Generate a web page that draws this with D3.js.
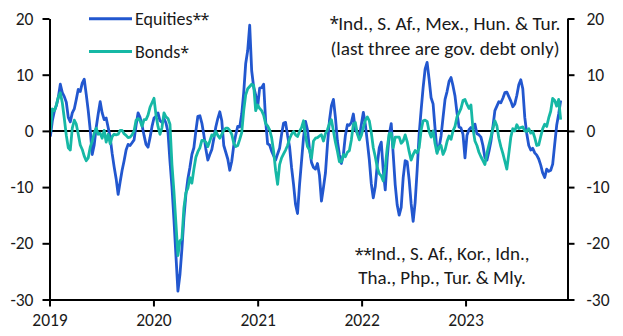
<!DOCTYPE html>
<html>
<head>
<meta charset="utf-8">
<script src="https://cdn.jsdelivr.net/npm/d3@7"></script>
<style>
  html, body { margin: 0; padding: 0; background: #fff; }
  svg { display: block; }
  text { font-family: Carlito, Lato, "Noto Sans", sans-serif; fill: #1a1a1a; }
  tspan.ast { font-family: "Noto Sans", sans-serif; letter-spacing: -1px; font-size: 0.9em; }
</style>
</head>
<body>
<svg id="chart" width="623" height="336"></svg>
<script>
// ---- Data (weekly, starting first Friday of 2019) ----
const startDate = "2019-01-04";
const equities = [
  -1.0,1.8,3.5,4.5,6.0,8.3,6.8,6.1,5.1,2.4, 1.6,3.2,3.9,5.6,7.4,7.0,8.5,9.2,6.5,3.6,
  0.2,-4.2,-2.5,0.6,3.0,5.2,3.2,2.0,2.3,0.6, -1.1,-4.0,-6.4,-8.5,-11.3,-9.1,-7.0,-5.3,-3.4,-2.4,
  -2.6,
  -2.1,-1.6,1.0,3.2,2.4,1.0,-0.8,-2.4,-2.9,-1.2, 0.8,2.3,2.6,3.2,1.8,1.5,2.2,1.4,-0.2,-5.4,
  -9.9,-15.8,-22.2,-28.5,-25.6,-21.0,-15.5,-11.3,-8.5,-6.5, -4.2,-3.0,0.0,2.6,2.7,1.4,-0.7,-3.2,-5.2,-4.2,
  -3.3,-1.4,
  0.7,2.2,3.4,1.8,-2.6,-3.8,-5.0,-7.0,-5.4,-2.6, -0.7,0.8,0.7,3.0,6.8,12.0,14.3,18.8,10.7,7.8,
  6.4,4.3,7.6,7.7,8.3,1.8,-2.3,-2.5,-3.6,-4.4, -5.2,-4.1,-3.1,-0.6,1.4,1.5,-0.8,-2.8,-6.5,-9.5,
  -13.1,-14.7,-9.6,-5.4,
  -1.2,1.7,0.2,-3.2,-5.6,-6.5,-6.8,-5.8,-7.9,-12.5, -10.1,-7.5,-2.5,1.8,4.5,5.6,2.4,-1.8,-4.2,-5.8,
  -4.2,-0.8,1.1,1.0,1.5,3.0,0.2,-0.4,-1.1,1.1, 3.3,1.2,-1.9,-5.1,-9.4,-11.9,-9.9,-6.0,-3.0,-2.0,
  -7.0,-10.5,
  -4.8,-0.7,1.3,-4.2,-9.6,-13.2,-15.0,-13.6,-8.3,-5.3, -5.5,-8.7,-13.0,-16.1,-12.7,-7.0,-0.6,3.7,7.7,11.0,
  12.2,9.2,5.9,4.8,0.4,-3.7,-3.0,-0.9,2.4,5.6, 7.0,8.8,9.5,8.0,6.2,3.2,0.7,0.5,-0.6,-4.8,
  -0.8,0.2,0.6,
  0.3,1.2,-0.5,-0.7,-1.1,-2.6,-4.8,-5.2,-3.7,-1.9, 0.7,3.6,4.4,5.2,5.0,5.8,6.8,6.9,6.1,5.3,
  4.3,4.8,6.3,8.2,9.1,7.5,2.4,-0.5,-2.6,-3.4, -3.1,-3.9,-4.3,-5.0,-6.1,-7.5,-8.3,-6.8,-7.2,-7.0,
  -5.9,-2.4,1.0,3.0,5.4
];
const bonds = [
  -0.2,3.9,3.6,4.6,6.0,6.8,5.0,2.2,-0.8,-3.0, -3.4,0.5,1.9,1.2,-0.6,-2.5,-3.3,-4.5,-5.3,-4.8,
  -2.9,-1.8,-0.4,0.5,-0.6,-0.4,-1.3,0.1,-2.0,-0.6, -2.3,-1.0,-0.6,-0.7,-0.6,0.1,0.1,-0.5,-0.8,-1.2,
  -1.1,
  -0.7,0.0,1.9,2.2,1.8,0.8,2.0,2.0,2.8,4.2, 5.0,5.8,2.8,0.8,-0.6,0.6,3.2,2.5,2.2,1.2,
  -6.0,-10.8,-16.5,-22.2,-19.6,-19.2,-13.7,-11.0,-10.2,-8.3, -9.3,-6.8,-4.7,-3.7,-3.0,-1.7,-1.7,-2.0,-2.8,-1.8,
  -0.7,-0.9,
  -0.1,-0.8,-1.3,-0.6,0.1,0.5,0.5,0.1,-0.6,-2.2, -2.8,-2.6,-1.5,-0.3,3.6,6.4,7.5,7.9,8.3,8.1,
  3.6,4.6,4.0,3.6,2.8,1.3,0.9,0.2,-1.2,-3.6, -7.0,-9.5,-6.0,-4.8,-4.1,-3.4,-2.6,-1.4,-0.6,-0.1,
  -0.7,-1.0,-0.1,0.6,
  1.8,-0.8,-2.8,-3.4,-4.9,-1.8,-1.3,-1.2,-0.9,-0.7, -1.8,-0.5,0.2,1.3,2.0,0.0,-2.0,-3.6,-5.5,-5.5,
  -4.2,-4.6,-3.8,-3.5,-1.6,1.2,1.5,-0.5,-1.6,-0.8, 0.6,1.9,2.5,1.8,-0.3,-3.0,-4.6,-6.5,-7.6,-8.0,
  -8.9,-6.5,
  -3.0,-0.5,-0.4,-3.0,-1.1,-1.1,-1.1,-2.2,-1.8,-0.7, -1.9,-3.7,-5.2,-4.2,-3.5,-3.9,-3.0,0.1,1.8,1.9,
  1.7,-0.1,-1.1,0.0,-2.3,-4.0,-2.8,-2.6,-4.2,-3.4, -1.9,-0.9,-1.5,0.0,0.8,2.5,3.2,4.0,5.4,5.6,
  4.7,4.0,4.6,
  0.4,-1.8,-2.6,-3.8,-4.6,-5.3,-6.0,-4.0,-2.5,-1.1, 0.4,1.8,0.9,-1.3,-2.8,-4.0,-5.4,-6.8,-4.0,-1.1,
  0.4,0.0,1.1,0.4,0.6,0.7,0.0,-0.1,0.4,-0.4, -0.1,-1.2,-2.6,-2.5,-1.0,0.4,1.2,0.8,2.3,3.5,
  5.8,5.4,4.4,5.6,2.0
];
const yTicks = [-30, -20, -10, 0, 10, 20];
const xTickYears = [2019, 2020, 2021, 2022, 2023];
const seriesNames = ["Equities**", "Bonds*"];
const noteTop = ["*Ind., S. Af., Mex., Hun. & Tur.", "(last three are gov. debt only)"];
const noteBottom = ["**Ind., S. Af., Kor., Idn.,", "Tha., Php., Tur. & Mly."];

// ---- Setup ----
const svg = d3.select("#chart");
const colors = { eq: "#2257cf", bd: "#16b8a5" };
const parse = d3.timeParse("%Y-%m-%d");
const t0 = parse(startDate);
const dates = equities.map((_, i) => d3.timeWeek.offset(t0, i));

const x = d3.scaleTime()
  .domain([new Date(2019, 0, 1), new Date(2023, 11, 25)])
  .range([49.5, 567.5]);
const y = d3.scaleLinear().domain([-30, 20]).range([299.5, 18.5]);

// text with asterisks set in a tighter face
function richText(sel, str) {
  const parts = str.match(/\*+|[^*]+/g) || [];
  parts.forEach(p => {
    const t = sel.append("tspan").text(p);
    if (p[0] === "*") t.attr("class", "ast");
  });
}

// zero line
svg.append("line")
  .attr("x1", x.range()[0]).attr("x2", x.range()[1])
  .attr("y1", y(0)).attr("y2", y(0))
  .attr("stroke", "#000").attr("stroke-width", 2);

const line = d3.line()
  .x((d, i) => x(dates[i]))
  .y(d => y(d))
  .curve(d3.curveLinear);

svg.append("path").datum(equities)
  .attr("d", line).attr("fill", "none")
  .attr("stroke", colors.eq).attr("stroke-width", 2.8)
  .attr("stroke-linejoin", "round");
svg.append("path").datum(bonds)
  .attr("d", line).attr("fill", "none")
  .attr("stroke", colors.bd).attr("stroke-width", 2.8)
  .attr("stroke-linejoin", "round");

// axes
const fmt = d => d < 0 ? "-" + Math.abs(d) : String(d);
const leftAxis = d3.axisLeft(y).tickValues(yTicks).tickSize(7).tickPadding(9).tickFormat(fmt);
const rightAxis = d3.axisRight(y).tickValues(yTicks).tickSize(7).tickPadding(12).tickFormat(fmt);
const bottomAxis = d3.axisBottom(x)
  .tickValues(xTickYears.map(yr => new Date(yr, 0, 1)))
  .tickSize(7).tickPadding(7).tickFormat(d3.timeFormat("%Y"));

function styleAxis(g) {
  g.select(".domain").attr("stroke", "#000").attr("stroke-width", 2);
  g.selectAll(".tick line").attr("stroke", "#000").attr("stroke-width", 2);
  g.selectAll(".tick text").style("font-size", "17.5px").attr("fill", "#1a1a1a");
}

svg.append("g").attr("transform", `translate(${x.range()[0]},0)`)
  .call(leftAxis.tickSizeOuter(0)).call(styleAxis);
svg.append("g").attr("transform", `translate(${x.range()[1]},0)`)
  .call(rightAxis.tickSizeOuter(0)).call(styleAxis);
svg.append("g").attr("transform", `translate(0,${y.range()[0]})`)
  .call(bottomAxis.tickSizeOuter(0)).call(styleAxis);

// legend
const legend = [
  { name: seriesNames[0], color: colors.eq, y: 18.7 },
  { name: seriesNames[1], color: colors.bd, y: 51.5 }
];
legend.forEach(l => {
  svg.append("line").attr("x1", 89).attr("x2", 132)
    .attr("y1", l.y).attr("y2", l.y)
    .attr("stroke", l.color).attr("stroke-width", 3);
  svg.append("text").attr("x", 135).attr("y", l.y)
    .attr("dy", "0.35em").style("font-size", "18px")
    .call(richText, l.name);
});

// notes
noteTop.forEach((d, i) => {
  svg.append("text").attr("x", 445).attr("y", 30 + i * 25)
    .attr("text-anchor", "middle").style("font-size", "19.3px")
    .call(richText, d);
});
noteBottom.forEach((d, i) => {
  svg.append("text").attr("x", 442).attr("y", 260 + i * 23.5)
    .attr("text-anchor", "middle").style("font-size", "19px")
    .call(richText, d);
});
</script>
</body>
</html>
